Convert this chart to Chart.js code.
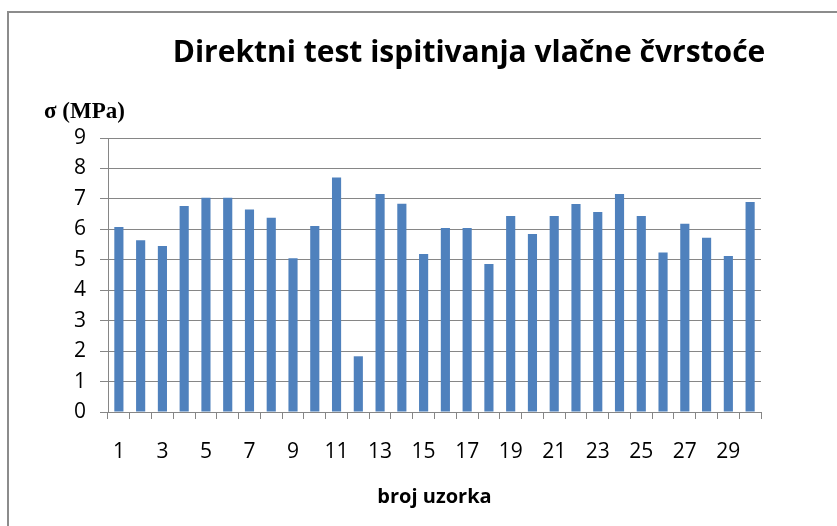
<!DOCTYPE html>
<html>
<head>
<meta charset="utf-8">
<script src="https://cdn.jsdelivr.net/npm/chart.js@4.4.0/dist/chart.umd.min.js"></script>
<style>
  html, body { margin: 0; padding: 0; background: #fff; }
  #wrap { position: relative; width: 837px; height: 526px; overflow: hidden; }
  #frame { position: absolute; left: 7px; top: 11px; width: 900px; height: 600px;
           border-top: 2px solid #8c8c8c; border-left: 2px solid #8c8c8c; }
  canvas { position: absolute; left: 0; top: 0; }
</style>
</head>
<body>
<div id="wrap">
  <div id="frame"></div>
  <canvas id="myChart" width="837" height="526"></canvas>
</div>
<script>
const titleText = 'Direktni test ispitivanja vlačne čvrstoće';
const yLabel = 'σ (MPa)';
const xLabel = 'broj uzorka';

const samples = [];
for (let i = 1; i <= 30; i++) samples.push(String(i));

const strength = [
   6.08, 5.64, 5.45, 6.77, 7.04, 7.04, 6.65, 6.38, 5.05, 6.11,
   7.70, 1.83, 7.16, 6.84, 5.19, 6.04, 6.04, 4.86, 6.44, 5.85,
   6.44, 6.83, 6.57, 7.16, 6.44, 5.24, 6.18, 5.72, 5.12, 6.90
];

const yTicks = [0, 1, 2, 3, 4, 5, 6, 7, 8, 9];

const textPlugin = {
   id: 'extraText',
   afterDraw(chart) {
      const ctx = chart.ctx;
      ctx.save();
      ctx.fillStyle = '#000';
      ctx.textBaseline = 'alphabetic';
      ctx.textAlign = 'center';
      ctx.font = 'bold 30px "Open Sans"';
      ctx.fillText(titleText, 469, 62);
      ctx.textAlign = 'left';
      ctx.font = 'bold 23px "Liberation Serif"';
      ctx.fillText(yLabel, 44, 118);
      ctx.restore();
   }
};

const ctx = document.getElementById('myChart');

const myChart = new Chart(ctx, {
   type: 'bar',
   data: {
      labels: samples,
      datasets: [{
         data: strength,
         backgroundColor: '#4f81bd',
         borderWidth: 0,
         barPercentage: 0.42,
         categoryPercentage: 1
      }]
   },
   options: {
      responsive: false,
      animation: false,
      layout: { padding: { left: 0, right: 76, top: 138, bottom: 0 } },
      plugins: {
         legend: { display: false },
         tooltip: { enabled: false }
      },
      scales: {
         x: {
            offset: true,
            grid: { offset: true, drawOnChartArea: false, drawTicks: true, tickLength: 7, color: '#868686' },
            border: { color: '#868686', width: 1 },
            ticks: {
               autoSkip: false,
               maxRotation: 0,
               padding: 20,
               color: '#000',
               font: { family: 'Open Sans', size: 21 },
               callback: function (v, i) { return i % 2 === 0 ? samples[i] : ''; }
            },
            title: {
               display: true,
               text: xLabel,
               color: '#000',
               font: { family: 'Open Sans', size: 20, weight: 'bold' },
               padding: { top: 0, bottom: 17 }
            },
            afterFit: function (scale) { scale.height = 114; }
         },
         y: {
            min: 0,
            max: 9,
            afterBuildTicks: function (scale) {
               scale.ticks = yTicks.map(function (v) { return { value: v }; });
            },
            grid: { color: '#868686', tickLength: 8 },
            border: { color: '#868686', width: 1 },
            ticks: {
               padding: 14,
               color: '#000',
               font: { family: 'Open Sans', size: 21 }
            },
            afterFit: function (scale) { scale.width = 108; }
         }
      }
   },
   plugins: [textPlugin]
});
</script>
</body>
</html>
